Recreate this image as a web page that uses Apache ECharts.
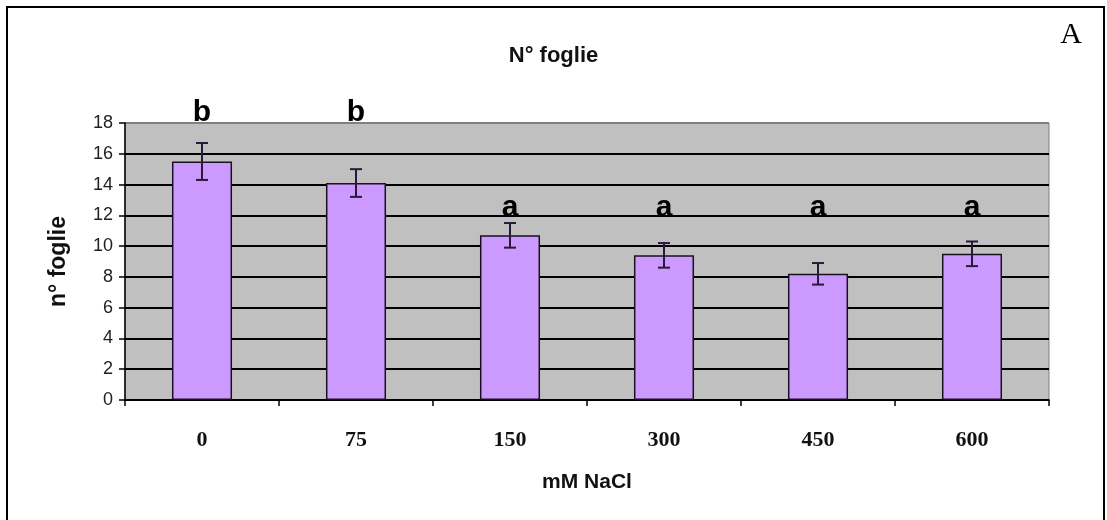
<!DOCTYPE html>
<html>
<head>
<meta charset="utf-8">
<script src="https://cdn.jsdelivr.net/npm/echarts@6/dist/echarts.min.js"></script>
<style>
    html, body { margin: 0; padding: 0; background: #fff; }
    #chart { width: 1107px; height: 520px; }
</style>
</head>
<body>
<div id="chart"></div>
<script>
// dati
var categories = ['0', '75', '150', '300', '450', '600'];
var means = [15.5, 14.1, 10.7, 9.4, 8.2, 9.5];
var errors = [1.2, 0.9, 0.8, 0.8, 0.7, 0.8];
var letters = ['b', 'b', 'a', 'a', 'a', 'a'];
var letterY = [18.65, 18.65, 12.5, 12.5, 12.5, 12.5];
var yTicks = [0, 2, 4, 6, 8, 10, 12, 14, 16, 18];

function Chart() {
    var errData = categories.map(function (c, i) {
        return [i, means[i] + errors[i], means[i] - errors[i]];
    });
    var letterData = categories.map(function (c, i) {
        return [i, letterY[i]];
    });
    // linee della griglia nere, bordo superiore grigio
    var gridColors = yTicks.map(function (t, i) {
        return i === yTicks.length - 1 ? '#808080' : '#000';
    });

    var option = {
        animation: false,
        title: {
            text: 'N° foglie',
            left: 'center',
            top: 40,
            textStyle: {
                fontFamily: 'Liberation Sans, Arial',
                fontSize: 22,
                fontWeight: 'bold',
                color: '#111'
            }
        },
        graphic: [{
            type: 'rect',
            shape: { x: 7, y: 7, width: 1097, height: 530 },
            style: { fill: 'none', stroke: '#000', lineWidth: 2 }
        }, {
            type: 'text',
            x: 1071,
            y: 35,
            style: {
                text: 'A',
                font: '30px "Liberation Serif"',
                fill: '#000',
                align: 'center',
                verticalAlign: 'middle'
            }
        }],
        grid: {
            left: 125,
            right: 58,
            top: 123,
            bottom: 120,
            show: true,
            backgroundColor: '#c0c0c0',
            borderColor: '#808080',
            borderWidth: 1
        },
        xAxis: {
            type: 'category',
            data: categories,
            name: 'mM NaCl',
            nameLocation: 'middle',
            nameGap: 72,
            nameTextStyle: {
                fontFamily: 'Liberation Sans, Arial',
                fontSize: 21,
                fontWeight: 'bold',
                color: '#111'
            },
            axisLine: { lineStyle: { color: '#000', width: 1.5 } },
            axisTick: { show: true, length: 6, lineStyle: { color: '#000', width: 1.5 } },
            axisLabel: {
                margin: 29,
                fontFamily: 'Liberation Serif',
                fontWeight: 'bold',
                fontSize: 22,
                color: '#111'
            }
        },
        yAxis: {
            type: 'value',
            min: 0,
            max: 18,
            interval: 2,
            name: 'n° foglie',
            nameLocation: 'middle',
            nameGap: 55,
            nameTextStyle: {
                fontFamily: 'Liberation Sans, Arial',
                fontSize: 23,
                fontWeight: 'bold',
                color: '#111'
            },
            axisLine: { show: true, lineStyle: { color: '#000', width: 1.5 } },
            axisTick: { show: true, length: 6, lineStyle: { color: '#000', width: 1.5 } },
            axisLabel: {
                margin: 12,
                fontFamily: 'Liberation Sans, Arial',
                fontSize: 18,
                color: '#222'
            },
            splitLine: { show: true, lineStyle: { color: gridColors, width: 2 } }
        },
        series: [{
            name: 'n° foglie',
            type: 'bar',
            data: means,
            barWidth: '39%',
            itemStyle: {
                color: '#cc99ff',
                borderColor: '#1a1020',
                borderWidth: 1.5
            }
        }, {
            type: 'custom',
            data: errData,
            z: 5,
            renderItem: function (params, api) {
                var hi = api.coord([api.value(0), api.value(1)]);
                var lo = api.coord([api.value(0), api.value(2)]);
                var w = 6;
                var style = { stroke: '#2a1a3a', lineWidth: 2 };
                return {
                    type: 'group',
                    children: [
                        { type: 'line', shape: { x1: hi[0], y1: hi[1], x2: lo[0], y2: lo[1] }, style: style },
                        { type: 'line', shape: { x1: hi[0] - w, y1: hi[1], x2: hi[0] + w, y2: hi[1] }, style: style },
                        { type: 'line', shape: { x1: lo[0] - w, y1: lo[1], x2: lo[0] + w, y2: lo[1] }, style: style }
                    ]
                };
            }
        }, {
            type: 'scatter',
            data: letterData,
            symbolSize: 1,
            clip: false,
            silent: true,
            z: 6,
            itemStyle: { color: 'rgba(0,0,0,0)', opacity: 1 },
            label: {
                show: true,
                position: 'inside',
                formatter: function (p) {
                    return letters[p.dataIndex];
                },
                fontFamily: 'Liberation Sans, Arial',
                fontSize: 30,
                fontWeight: 'bold',
                color: '#000'
            }
        }]
    };
    var myChart = echarts.init(document.querySelector('#chart'));
    myChart.setOption(option);
}

Chart();
</script>
</body>
</html>
